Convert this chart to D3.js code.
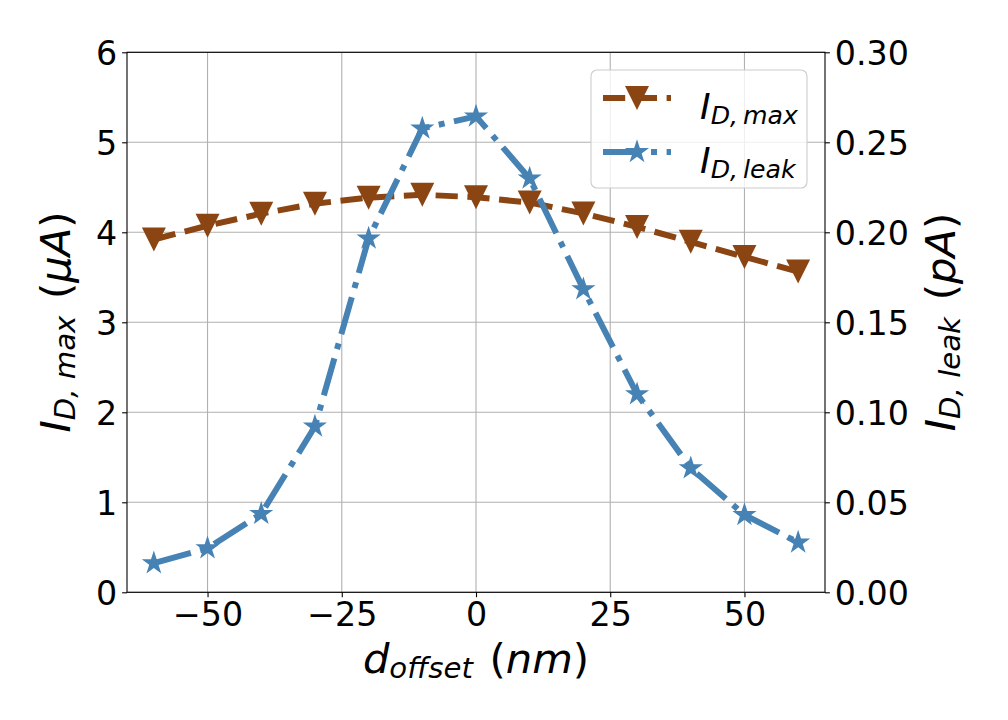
<!DOCTYPE html>
<html><head><meta charset="utf-8">
<script src="https://cdn.jsdelivr.net/npm/d3@7"></script>
<style>body{margin:0;background:#fff}svg{display:block}text{font-family:"DejaVu Sans",sans-serif;fill:#000}</style>
</head><body>
<svg id="c" width="1008" height="720"></svg>
<script>
const offsets = [-60,-50,-40,-30,-20,-10,0,10,20,30,40,50,60];
const idMax = [3.92,4.074,4.207,4.318,4.385,4.417,4.39,4.33,4.21,4.06,3.894,3.726,3.564];
const idLeak = [0.0162,0.0245,0.0436,0.0921,0.1966,0.2577,0.2644,0.2299,0.1684,0.1101,0.0689,0.043,0.0277];
const xTicks = [-50,-25,0,25,50];
const yLeftTicks = [0,1,2,3,4,5,6];
const yRightTicks = [0,0.05,0.10,0.15,0.20,0.25,0.30];

const L=127,R=825,T=52.3,B=592.3;
const svg=d3.select("#c");
const x=d3.scaleLinear().domain([-65,65]).range([L,R]);
const yL=d3.scaleLinear().domain([0,6]).range([B,T]);
const yR=d3.scaleLinear().domain([0,0.3]).range([B,T]);
const brown="#8B4513", blue="#4682B4";
const lw=6;

// grid
const g=svg.append("g");
xTicks.forEach(t=>g.append("line").attr("x1",x(t)).attr("x2",x(t)).attr("y1",T).attr("y2",B).attr("stroke","#b0b0b0").attr("stroke-width",1.1));
yLeftTicks.forEach(t=>g.append("line").attr("x1",L).attr("x2",R).attr("y1",yL(t)).attr("y2",yL(t)).attr("stroke","#b0b0b0").attr("stroke-width",1.1));

svg.append("clipPath").attr("id","pc").append("rect").attr("x",L).attr("y",T).attr("width",R-L).attr("height",B-T);

function triDown(s){const h=s/2;return `M0,${h}L${-h},${-h}L${h},${-h}Z`;}
function star(r){const ri=r*0.381966;let p="";for(let i=0;i<10;i++){const a=-Math.PI/2+i*Math.PI/5;const rr=i%2?ri:r;p+=(i?"L":"M")+(rr*Math.cos(a)).toFixed(3)+","+(rr*Math.sin(a)).toFixed(3);}return p+"Z";}

const plot=svg.append("g").attr("clip-path","url(#pc)");
const lineB=d3.line().x((d,i)=>x(offsets[i])).y(d=>yL(d));
plot.append("path").attr("d",lineB(idMax)).attr("fill","none").attr("stroke",brown).attr("stroke-width",lw).attr("stroke-dasharray",[3.7*lw,1.6*lw].join(",")).attr("stroke-linejoin","round");
plot.selectAll(".tb").data(idMax).enter().append("path").attr("d",triDown(24)).attr("fill",brown).attr("transform",(d,i)=>`translate(${x(offsets[i])},${yL(d)})`);
const lineL=d3.line().x((d,i)=>x(offsets[i])).y(d=>yR(d));
plot.append("path").attr("d",lineL(idLeak)).attr("fill","none").attr("stroke",blue).attr("stroke-width",lw).attr("stroke-dasharray",[6.4*lw,1.6*lw,1*lw,1.6*lw].join(",")).attr("stroke-linejoin","round");
plot.selectAll(".sb").data(idLeak).enter().append("path").attr("d",star(12.7)).attr("fill",blue).attr("transform",(d,i)=>`translate(${x(offsets[i])},${yR(d)})`);

// spines
svg.append("rect").attr("x",L).attr("y",T).attr("width",R-L).attr("height",B-T).attr("fill","none").attr("stroke","#000").attr("stroke-width",1.1);

// axes with d3 axis
const fs=33.3;
const minus=s=>s.replace("-","\u2212");
const ax=svg.append("g").attr("transform",`translate(0,${B})`).call(d3.axisBottom(x).tickValues(xTicks).tickSizeOuter(0).tickSizeInner(4.9).tickPadding(4.9).tickFormat(d=>minus(String(d))));
const ayl=svg.append("g").attr("transform",`translate(${L},0)`).call(d3.axisLeft(yL).tickValues(yLeftTicks).tickSizeOuter(0).tickSizeInner(4.9).tickPadding(4.9).tickFormat(d3.format("d")));
const ayr=svg.append("g").attr("transform",`translate(${R},0)`).call(d3.axisRight(yR).tickValues(yRightTicks).tickSizeOuter(0).tickSizeInner(4.9).tickPadding(4.9).tickFormat(d3.format(".2f")));
[ax,ayl,ayr].forEach(a=>{a.select(".domain").remove();a.selectAll(".tick line").attr("stroke","#000").attr("stroke-width",1.1);a.selectAll("text").attr("font-size",fs).attr("font-family","DejaVu Sans");});
ax.selectAll("text").attr("dy",null).attr("y",9.8+0.73*fs);
ayl.selectAll("text").attr("dy",null).attr("y",0.365*fs);
ayr.selectAll("text").attr("dy",null).attr("y",0.365*fs);

// math label helper
function mathLabel(sel,main,sub,rest,size){
  const t=sel.append("text").attr("font-size",size).attr("font-family","DejaVu Sans");
  t.append("tspan").attr("font-style","italic").text(main);
  t.append("tspan").attr("font-style","italic").attr("font-size",size*0.7).attr("dy",size*0.13).text(sub);
  if(rest){
    const r=t.append("tspan").attr("dy",-size*0.13);
    rest.forEach(([s,it])=>r.append("tspan").attr("font-style",it?"italic":"normal").text(s));
  }
  return t;
}
const ls=41.7;
mathLabel(svg,"d","offset",[["\u2009\u2009(",0],["nm",1],[")",0]],ls).attr("x",476).attr("y",673).attr("text-anchor","middle");
mathLabel(svg.append("g").attr("transform",`translate(70,322) rotate(-90)`),"I","D, max",[["\u2009\u2009(",0],["\u03bcA",1],[")",0]],ls).attr("text-anchor","middle");
mathLabel(svg.append("g").attr("transform",`translate(955,322) rotate(-90)`),"I","D, leak",[["\u2009\u2009(",0],["pA",1],[")",0]],ls).attr("text-anchor","middle");

// legend
const lg=svg.append("g");
lg.append("rect").attr("x",591).attr("y",70).attr("width",216).attr("height",118).attr("rx",6).attr("fill","#fff").attr("fill-opacity",0.8).attr("stroke","#cccccc").attr("stroke-width",1.1);
const rows=[{c:brown,dash:[3.7*lw,1.6*lw],m:triDown(24),y:98,sub:"D,\u2009max"},{c:blue,dash:[6.4*lw,1.6*lw,1*lw,1.6*lw],m:star(12.7),y:152,sub:"D,\u2009leak"}];
rows.forEach(r=>{
  lg.append("line").attr("x1",603).attr("x2",671).attr("y1",r.y).attr("y2",r.y).attr("stroke",r.c).attr("stroke-width",lw).attr("stroke-dasharray",r.dash.join(","));
  lg.append("path").attr("d",r.m).attr("fill",r.c).attr("transform",`translate(637,${r.y})`);
  mathLabel(lg,"I",r.sub,null,36).attr("x",700).attr("y",r.y+21);
});
</script>
</body></html>
